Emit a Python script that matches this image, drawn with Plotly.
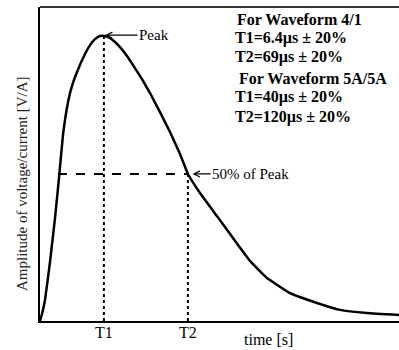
import plotly.graph_objects as go

# Waveform (time in arbitrary units 0-100, amplitude relative to peak)
t = [0, 0.557, 1.393, 2.786, 4.178, 5.292, 6.407, 7.799, 8.914, 10.306, 12.535, 13.928,
     15.320, 16.713, 18.106, 19.499, 20.891, 22.284, 24.234, 25.905, 28.412, 30.641,
     33.426, 36.212, 38.997, 41.226, 44.568, 49.304, 53.760, 58.496, 63.231, 69.638,
     77.159, 83.565, 91.086, 100]
amp = [0, 0.0246, 0.0737, 0.207, 0.361, 0.502, 0.653, 0.768, 0.825, 0.874, 0.937, 0.968,
       0.989, 1.0, 1.0, 0.993, 0.979, 0.961, 0.930, 0.898, 0.849, 0.800,
       0.733, 0.663, 0.586, 0.516, 0.449, 0.368, 0.291, 0.211, 0.151, 0.098,
       0.063, 0.039, 0.028, 0.021]

t_rise50 = 5.0
t1 = 17.8
t2 = 41.2
peak = 1.0
half = 0.516

tick_vals = [t1, t2]
tick_text = ["T1", "T2"]

info_lines = ["For Waveform 4/1", "T1=6.4µs ± 20%", "T2=69µs ± 20%",
              "For Waveform 5A/5A", "T1=40µs ± 20%", "T2=120µs ± 20%"]
info_py = [19, 38, 57, 78, 97, 117]
info_px = [235, 233, 233, 237, 233, 233]

serif = "Liberation Serif, Times New Roman, serif"


def px_to_x(px):
    return (px - 40) / 3.59


def py_to_y(py):
    return (321 - py) / 285.0


def py_to_paper(py):
    return (321 - py) / 314.0


fig = go.Figure()
fig.add_trace(go.Scatter(x=t, y=amp, mode="lines", line=dict(color="black", width=2.5, shape="spline", smoothing=0.3),
                         hoverinfo="skip", showlegend=False))
fig.add_trace(go.Scatter(x=[t_rise50, t2], y=[half, half], mode="lines",
                         line=dict(color="black", width=2, dash="dash"), showlegend=False))
fig.add_trace(go.Scatter(x=[t1, t1], y=[0, peak], mode="lines",
                         line=dict(color="black", width=2, dash="dot"), showlegend=False))
fig.add_trace(go.Scatter(x=[t2, t2], y=[0, half], mode="lines",
                         line=dict(color="black", width=2, dash="dot"), showlegend=False))

ann = []
ann.append(dict(x=t1 + 0.3, y=peak + 0.003, xref="x", yref="y", text="Peak", showarrow=True,
                ax=49, ay=0, arrowhead=5, arrowsize=1, arrowwidth=1.2, arrowcolor="black",
                font=dict(family=serif, size=15, color="black")))
ann.append(dict(x=t2 + 1.3, y=half, xref="x", yref="y", text="50% of Peak", showarrow=True,
                ax=58, ay=0, arrowhead=5, arrowsize=1, arrowwidth=1.2, arrowcolor="black",
                font=dict(family=serif, size=15, color="black")))
for txt, py, px in zip(info_lines, info_py, info_px):
    ann.append(dict(x=px_to_x(px), y=py_to_y(py), xref="x", yref="y", text="<b>" + txt + "</b>",
                    showarrow=False, xanchor="left", yanchor="middle",
                    font=dict(family=serif, size=16, color="black")))
for tv, tt in zip(tick_vals, tick_text):
    ann.append(dict(x=tv, y=py_to_paper(332), xref="x", yref="paper", text=tt, showarrow=False,
                    xanchor="center", yanchor="middle", font=dict(family=serif, size=16, color="black")))
ann.append(dict(x=px_to_x(268), y=py_to_paper(339), xref="x", yref="paper", text="time [s]",
                showarrow=False, xanchor="center", yanchor="middle",
                font=dict(family=serif, size=16, color="black")))
ann.append(dict(x=(22 - 40) / 359, y=py_to_paper(184), xref="paper", yref="paper",
                text="Amplitude of voltage/current [V/A]", showarrow=False, textangle=-90,
                xanchor="center", yanchor="middle", font=dict(family=serif, size=15, color="#222")))

fig.update_layout(
    width=399, height=350,
    margin=dict(l=40, r=0, t=7, b=29),
    plot_bgcolor="white", paper_bgcolor="white",
    annotations=ann,
    shapes=[dict(type="line", xref="paper", yref="paper", x0=0, x1=1, y0=1, y1=1,
                 line=dict(color="#333", width=2))],
    xaxis=dict(range=[0, 100], showgrid=False, zeroline=False, showline=True, linecolor="black",
               linewidth=1.5, tickvals=tick_vals, showticklabels=False, ticks=""),
    yaxis=dict(range=[0, 1.1018], showgrid=False, zeroline=False, showline=True, linecolor="black",
               linewidth=1.5, showticklabels=False, ticks=""),
)
fig.write_html("out.html")
